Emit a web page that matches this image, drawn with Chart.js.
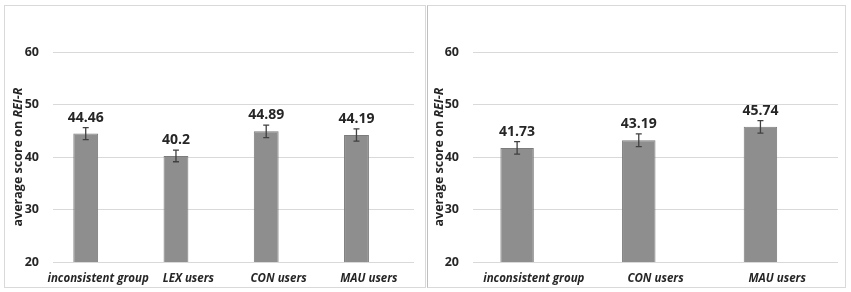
<!DOCTYPE html>
<html>
<head>
<meta charset="utf-8">
<script src="https://cdn.jsdelivr.net/npm/chart.js@4"></script>
<style>
  body { margin: 0; background: #fff; width: 851px; height: 292px; position: relative; overflow: hidden; }
  .panel { position: absolute; top: 5px; height: 283px; border: 1px solid #d9d9d9; box-sizing: border-box; }
  #leftBox { left: 4px; width: 422px; }
  #rightBox { left: 427px; width: 419px; border-left-color: #bfbfbf; }
  canvas { position: absolute; left: 0; top: 0; }
</style>
</head>
<body>
<div class="panel" id="leftBox"><canvas id="leftChart" width="420" height="281"></canvas></div>
<div class="panel" id="rightBox"><canvas id="rightChart" width="417" height="281"></canvas></div>
<script>
// 왼쪽 패널
const leftCategories = ['inconsistent group', 'LEX users', 'CON users', 'MAU users'];
const leftMeans = [44.46, 40.2, 44.89, 44.19];
const leftErrors = [1.15, 1.1, 1.2, 1.15];

// 오른쪽 패널
const rightCategories = ['inconsistent group', 'CON users', 'MAU users'];
const rightMeans = [41.73, 43.19, 45.74];
const rightErrors = [1.2, 1.2, 1.2];

const yMin = 20;
const yMax = 60;
const yStep = 10;

const textColor = '#262626';
const fontFam = '"Open Sans", sans-serif';

// 에러바 + 값 라벨 + y축 제목
const extrasPlugin = {
  id: 'extras',
  afterDatasetsDraw(chart, args, opts) {
    const ctx = chart.ctx;
    const ys = chart.scales.y;
    const meta = chart.getDatasetMeta(0);
    const means = chart.data.datasets[0].data;
    const errs = opts.errors;
    ctx.save();
    meta.data.forEach((bar, i) => {
      const x = bar.x;
      const yTop = ys.getPixelForValue(means[i] + errs[i]);
      const yBot = ys.getPixelForValue(means[i] - errs[i]);
      ctx.strokeStyle = '#404040';
      ctx.lineWidth = 1.3;
      ctx.beginPath();
      ctx.moveTo(x, yTop); ctx.lineTo(x, yBot);
      ctx.moveTo(x - 3, yTop); ctx.lineTo(x + 3, yTop);
      ctx.moveTo(x - 3, yBot); ctx.lineTo(x + 3, yBot);
      ctx.stroke();

      ctx.fillStyle = textColor;
      ctx.font = 'bold 14px ' + fontFam;
      ctx.textAlign = 'center';
      ctx.textBaseline = 'alphabetic';
      ctx.fillText(String(means[i]), x, ys.getPixelForValue(means[i]) - 12);
    });

    // y축 제목 (REI-R 이탤릭)
    const cy = (chart.chartArea.top + chart.chartArea.bottom) / 2;
    const part1 = 'average score on ';
    const part2 = 'REI-R';
    ctx.translate(opts.titleX, cy);
    ctx.rotate(-Math.PI / 2);
    ctx.textBaseline = 'middle';
    ctx.textAlign = 'left';
    ctx.font = 'bold 12.5px ' + fontFam;
    const w1 = ctx.measureText(part1).width;
    ctx.font = 'italic bold 12.5px ' + fontFam;
    const w2 = ctx.measureText(part2).width;
    const start = -(w1 + w2) / 2;
    ctx.font = 'bold 12.5px ' + fontFam;
    ctx.fillText(part1, start, 0);
    ctx.font = 'italic bold 12.5px ' + fontFam;
    ctx.fillText(part2, start + w1, 0);
    ctx.restore();
  }
};

function makeChart(id, labels, means, errors, yWidth, padRight, titleX) {
  return new Chart(document.getElementById(id), {
    type: 'bar',
    data: {
      labels: labels,
      datasets: [{
        data: means,
        backgroundColor: '#8e8e8e',
        borderColor: '#7c7c7c',
        borderWidth: 1,
        barPercentage: 1.0,
        categoryPercentage: 0.55
      }, {
        // 빈 계열 (엑셀 원본처럼 막대가 왼쪽으로 치우침)
        data: labels.map(() => null),
        barPercentage: 1.0,
        categoryPercentage: 0.55
      }]
    },
    options: {
      responsive: false,
      animation: false,
      layout: { padding: { top: 46, right: padRight, left: 0, bottom: 0 } },
      plugins: {
        legend: { display: false },
        tooltip: { enabled: false },
        extras: { errors: errors, titleX: titleX }
      },
      scales: {
        x: {
          grid: { display: false, drawTicks: false },
          border: { display: false },
          ticks: {
            color: textColor,
            font: { family: fontFam, size: 11.5, weight: 'bold', style: 'italic' },
            padding: 10,
            autoSkip: false,
            maxRotation: 0
          },
          afterFit(scale) { scale.height = 25; }
        },
        y: {
          min: yMin,
          max: yMax,
          grid: { color: '#d9d9d9', drawTicks: false, lineWidth: 1 },
          border: { display: false },
          ticks: {
            stepSize: yStep,
            color: textColor,
            font: { family: fontFam, size: 12.5, weight: 'bold' },
            padding: 14
          },
          afterFit(scale) { scale.width = yWidth; }
        }
      }
    },
    plugins: [extrasPlugin]
  });
}

makeChart('leftChart', leftCategories, leftMeans, leftErrors, 48, 11, 13);
makeChart('rightChart', rightCategories, rightMeans, rightErrors, 45, 7, 11);
</script>
</body>
</html>
